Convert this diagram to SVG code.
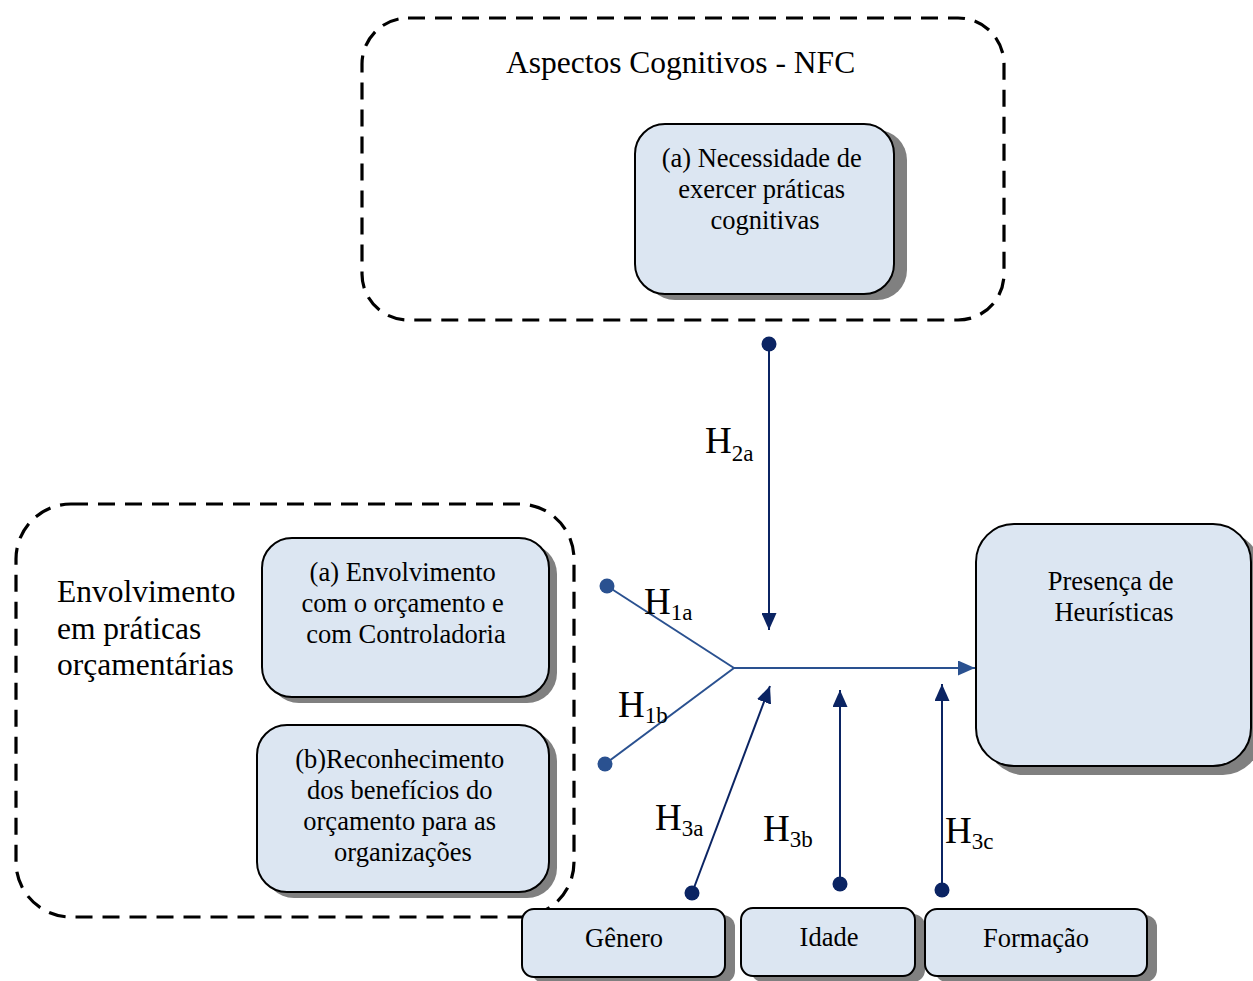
<svg xmlns="http://www.w3.org/2000/svg" width="1253" height="981" viewBox="0 0 1253 981">
<style>
  text { font-family: "Liberation Serif", "Times New Roman", serif; fill: #000; }
  .t26 { font-size: 26.5px; }
  .t31 { font-size: 31.5px; }
  .h { font-size: 37px; }
  .sub { font-size: 23px; }
  .dash { fill: none; stroke: #000; stroke-width: 3.2; stroke-dasharray: 17 10; }
  .box { fill: #dce6f2; stroke: #000; stroke-width: 2; }
  .shadow { fill: #808080; }
  .navy { stroke: #0b2463; stroke-width: 2; fill: none; }
  .blue { stroke: #2a5190; stroke-width: 2; fill: none; }
</style>
<defs>
  <marker id="arrN" markerWidth="17" markerHeight="15" refX="17" refY="7.5" orient="auto" markerUnits="userSpaceOnUse">
    <path d="M0,0 L17,7.5 L0,15 Z" fill="#0b2463"/>
  </marker>
  <marker id="arrB" markerWidth="17" markerHeight="15" refX="17" refY="7.5" orient="auto" markerUnits="userSpaceOnUse">
    <path d="M0,0 L17,7.5 L0,15 Z" fill="#2a5190"/>
  </marker>
</defs>
<rect width="1253" height="981" fill="#fff"/>

<g id="grupo-nfc">
  <rect class="dash" x="362" y="18" width="642" height="302" rx="46"/>
  <text class="t31" x="506" y="73">Aspectos Cognitivos - NFC</text>
</g>
<g id="node-nfc">
  <rect class="shadow" x="645" y="130" width="262" height="170" rx="30"/>
  <rect class="box" x="635" y="124" width="259" height="170" rx="30"/>
  <text class="t26" text-anchor="middle">
    <tspan x="765" y="167">(a) Necessidade de</tspan>
    <tspan x="765" y="198">exercer práticas</tspan>
    <tspan x="765" y="229">cognitivas</tspan>
  </text>
</g>

<g id="grupo-envolvimento">
  <rect class="dash" x="16" y="504" width="558" height="413" rx="55"/>
  <text class="t31">
    <tspan x="57" y="602">Envolvimento</tspan>
    <tspan x="57" y="639">em práticas</tspan>
    <tspan x="57" y="675">orçamentárias</tspan>
  </text>
</g>
<g id="node-envolvimento">
  <rect class="shadow" x="269" y="544" width="288" height="159" rx="30"/>
  <rect class="box" x="262" y="538" width="287" height="159" rx="30"/>
  <text class="t26" text-anchor="middle">
    <tspan x="406" y="581">(a) Envolvimento</tspan>
    <tspan x="406" y="612">com o orçamento e</tspan>
    <tspan x="406" y="643">com Controladoria</tspan>
  </text>
</g>
<g id="node-reconhecimento">
  <rect class="shadow" x="264" y="731" width="293" height="167" rx="30"/>
  <rect class="box" x="257" y="725" width="292" height="167" rx="30"/>
  <text class="t26" text-anchor="middle">
    <tspan x="403" y="768">(b)Reconhecimento</tspan>
    <tspan x="403" y="799">dos benefícios do</tspan>
    <tspan x="403" y="830">orçamento para as</tspan>
    <tspan x="403" y="861">organizações</tspan>
  </text>
</g>

<g id="node-presenca">
  <rect class="shadow" x="986" y="532" width="275" height="243" rx="38"/>
  <rect class="box" x="976" y="524" width="275" height="242" rx="38"/>
  <text class="t26" text-anchor="middle">
    <tspan x="1114" y="590">Presença de</tspan>
    <tspan x="1114" y="621">Heurísticas</tspan>
  </text>
</g>

<g id="node-genero">
  <rect class="shadow" x="532" y="915" width="203" height="68" rx="12"/>
  <rect class="box" x="522" y="909" width="203" height="68" rx="12"/>
  <text class="t26" x="624" y="947" text-anchor="middle">Gênero</text>
</g>
<g id="node-idade">
  <rect class="shadow" x="751" y="914" width="174" height="68" rx="12"/>
  <rect class="box" x="741" y="908" width="174" height="68" rx="12"/>
  <text class="t26" x="829" y="946" text-anchor="middle">Idade</text>
</g>
<g id="node-formacao">
  <rect class="shadow" x="935" y="915" width="222" height="67" rx="12"/>
  <rect class="box" x="925" y="909" width="222" height="67" rx="12"/>
  <text class="t26" x="1036" y="947" text-anchor="middle">Formação</text>
</g>

<g id="connectors">
  <line class="navy" x1="769" y1="344" x2="769" y2="630" marker-end="url(#arrN)"/>
  <circle cx="769" cy="344" r="7.5" fill="#0b2463"/>

  <line class="blue" x1="607" y1="586" x2="734" y2="668"/>
  <line class="blue" x1="605" y1="764" x2="734" y2="668"/>
  <circle cx="607" cy="586" r="7.5" fill="#2a5190"/>
  <circle cx="605" cy="764" r="7.5" fill="#2a5190"/>
  <line class="blue" x1="734" y1="668" x2="975" y2="668" marker-end="url(#arrB)"/>

  <line class="navy" x1="692" y1="893" x2="770" y2="686" marker-end="url(#arrN)"/>
  <circle cx="692" cy="893" r="7.5" fill="#0b2463"/>
  <line class="navy" x1="840" y1="884" x2="840" y2="690" marker-end="url(#arrN)"/>
  <circle cx="840" cy="884" r="7.5" fill="#0b2463"/>
  <line class="navy" x1="942" y1="890" x2="942" y2="684" marker-end="url(#arrN)"/>
  <circle cx="942" cy="890" r="7.5" fill="#0b2463"/>

  <text class="h" x="705" y="453">H<tspan class="sub" dy="8">2a</tspan></text>
  <text class="h" x="644" y="614">H<tspan class="sub" dy="6">1a</tspan></text>
  <text class="h" x="618" y="717">H<tspan class="sub" dy="6">1b</tspan></text>
  <text class="h" x="655" y="830">H<tspan class="sub" dy="6">3a</tspan></text>
  <text class="h" x="763" y="841">H<tspan class="sub" dy="6">3b</tspan></text>
  <text class="h" x="945" y="843">H<tspan class="sub" dy="6">3c</tspan></text>
</g>
</svg>
